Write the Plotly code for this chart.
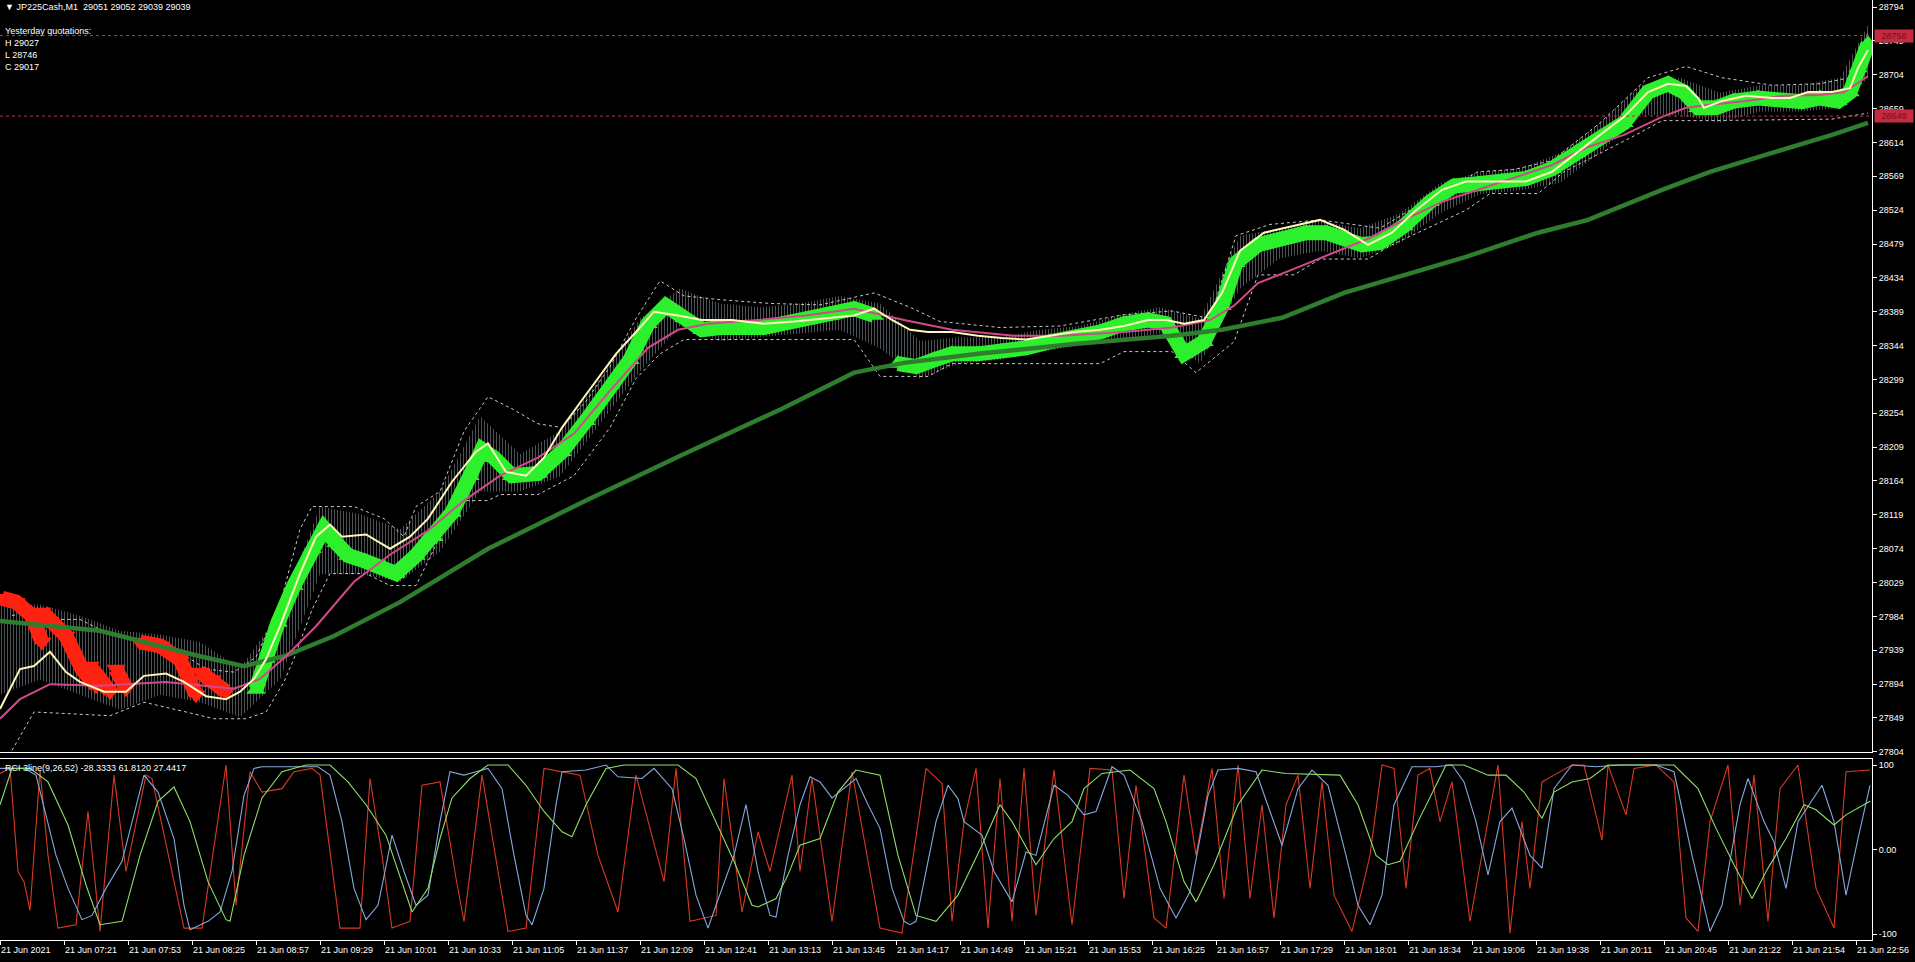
import plotly.graph_objects as go

# ---------------- data (bar index, value) ----------------
time_labels = ["21 Jun 2021", "21 Jun 07:21", "21 Jun 07:53", "21 Jun 08:25", "21 Jun 08:57",
               "21 Jun 09:29", "21 Jun 10:01", "21 Jun 10:33", "21 Jun 11:05", "21 Jun 11:37",
               "21 Jun 12:09", "21 Jun 12:41", "21 Jun 13:13", "21 Jun 13:45", "21 Jun 14:17",
               "21 Jun 14:49", "21 Jun 15:21", "21 Jun 15:53", "21 Jun 16:25", "21 Jun 16:57",
               "21 Jun 17:29", "21 Jun 18:01", "21 Jun 18:34", "21 Jun 19:06", "21 Jun 19:38",
               "21 Jun 20:11", "21 Jun 20:45", "21 Jun 21:22", "21 Jun 21:54", "21 Jun 22:56"]
label_bars = [0, 32, 64, 96, 128, 160, 192, 224, 256, 288, 320, 352, 384, 416, 448,
              480, 512, 544, 576, 608, 640, 672, 704, 736, 768, 800, 832, 864, 896, 928]

price_ticks = [27804, 27849, 27894, 27939, 27984, 28029, 28074, 28119, 28164, 28209, 28254,
               28299, 28344, 28389, 28434, 28479, 28524, 28569, 28614, 28659, 28704, 28749, 28794]
level_lines = [28756, 28649]

red_arrows = [
    [(1, 28008), (8, 28003), (16, 27985), (21, 27950)],
    [(21, 27990), (33, 27958), (41, 27914), (48, 27892)],
    [(45, 27918), (55, 27884)],
    [(58, 27914), (63, 27888)],
    [(70, 27950), (80, 27945), (90, 27927), (95, 27897), (98, 27880)],
    [(100, 27910), (106, 27900), (113, 27884)],
]
green_arrows = [
    [(128, 27887), (133, 27928), (139, 27976), (147, 28025), (156, 28074), (162, 28101), (168, 28082),
     (174, 28065), (183, 28057), (192, 28049), (198, 28041), (208, 28065), (217, 28090), (226, 28122),
     (235, 28171), (241, 28206), (247, 28195), (256, 28171), (269, 28174), (281, 28203), (293, 28244),
     (305, 28292), (315, 28325), (324, 28373), (333, 28397), (342, 28381), (351, 28365), (360, 28368),
     (373, 28368), (382, 28368), (391, 28373), (403, 28378), (415, 28384), (427, 28393), (437, 28384)],
    [(449, 28320), (458, 28316), (467, 28325), (476, 28333), (489, 28333), (501, 28336), (513, 28341),
     (525, 28349), (537, 28354), (550, 28362), (562, 28373), (574, 28378), (583, 28373), (592, 28333),
     (602, 28349), (611, 28397), (618, 28454), (629, 28478), (641, 28486), (653, 28494), (663, 28494),
     (672, 28486), (681, 28478), (690, 28481), (702, 28503), (715, 28535), (727, 28556), (739, 28559),
     (751, 28562), (763, 28566), (776, 28579), (788, 28600), (800, 28621), (812, 28640), (824, 28681),
     (834, 28692), (842, 28681), (849, 28660), (858, 28660), (867, 28669), (879, 28673), (892, 28669),
     (901, 28668), (910, 28673), (919, 28669), (925, 28681), (929, 28713), (934, 28745)],
]

bar_range = [(0, 28000, 27880), (20, 28000, 27900), (40, 27985, 27880), (60, 27965, 27860),
             (80, 27960, 27880), (100, 27950, 27870), (120, 27915, 27850), (140, 27990, 27900),
             (160, 28130, 28040), (180, 28120, 28040), (200, 28100, 28030), (220, 28150, 28070),
             (240, 28250, 28150), (260, 28200, 28150), (280, 28230, 28170), (300, 28300, 28240),
             (320, 28380, 28310), (340, 28420, 28370), (360, 28400, 28350), (380, 28395, 28355),
             (400, 28400, 28360), (420, 28410, 28365), (440, 28400, 28340), (460, 28350, 28300),
             (480, 28355, 28320), (500, 28355, 28325), (520, 28365, 28335), (540, 28370, 28345),
             (560, 28385, 28350), (580, 28395, 28360), (600, 28380, 28320), (620, 28490, 28420),
             (640, 28500, 28460), (660, 28510, 28470), (680, 28500, 28460), (700, 28520, 28480),
             (720, 28560, 28520), (740, 28575, 28545), (760, 28580, 28550), (780, 28600, 28560),
             (800, 28640, 28600), (820, 28690, 28650), (840, 28700, 28650), (860, 28680, 28640),
             (880, 28690, 28655), (900, 28690, 28655), (920, 28700, 28660), (934, 28770, 28700)]

upper_band = [(6, 27985), (20, 27996), (30, 27980), (40, 27980), (55, 27960), (70, 27950), (93, 27931),
              (103, 27914), (117, 27910), (128, 27930), (140, 28000), (150, 28100), (156, 28130),
              (177, 28130), (192, 28114), (202, 28090), (208, 28130), (220, 28150), (232, 28230),
              (244, 28276), (256, 28260), (269, 28240), (281, 28235), (293, 28270), (305, 28316),
              (318, 28380), (330, 28430), (342, 28410), (360, 28405), (385, 28400), (410, 28398),
              (437, 28414), (455, 28395), (470, 28376), (500, 28368), (530, 28370), (562, 28385),
              (586, 28390), (605, 28380), (618, 28490), (635, 28505), (660, 28511), (690, 28500),
              (715, 28540), (739, 28575), (757, 28578), (776, 28590), (800, 28640), (824, 28700),
              (843, 28715), (861, 28700), (886, 28690), (910, 28692), (925, 28700), (934, 28760)]
lower_band = [(6, 27806), (17, 27857), (55, 27852), (72, 27870), (93, 27857), (107, 27848), (123, 27848),
              (133, 27857), (142, 27897), (147, 27928), (156, 27993), (165, 28041), (183, 28041),
              (195, 28025), (208, 28025), (220, 28090), (232, 28138), (244, 28138), (250, 28146),
              (269, 28146), (287, 28171), (305, 28235), (318, 28300), (330, 28333), (342, 28352),
              (427, 28352), (440, 28303), (464, 28303), (476, 28320), (550, 28320), (562, 28336),
              (586, 28336), (598, 28308), (617, 28349), (629, 28438), (647, 28438), (660, 28459),
              (684, 28459), (696, 28478), (733, 28524), (745, 28546), (769, 28546), (782, 28575),
              (818, 28624), (831, 28643), (855, 28643), (916, 28645), (934, 28653)]

ma_fast = [(0, 27861), (10, 27914), (17, 27918), (25, 27937), (33, 27910), (40, 27897), (52, 27884),
           (63, 27884), (72, 27905), (83, 27908), (92, 27897), (103, 27878), (113, 27874), (120, 27884),
           (127, 27901), (133, 27927), (140, 27971), (150, 28041), (158, 28090), (165, 28106), (171, 28090),
           (183, 28093), (195, 28074), (205, 28090), (214, 28114), (226, 28163), (238, 28203), (244, 28214),
           (253, 28176), (263, 28171), (272, 28195), (281, 28235), (290, 28268), (299, 28300), (308, 28333),
           (318, 28362), (327, 28389), (339, 28384), (351, 28378), (366, 28378), (382, 28373), (397, 28376),
           (415, 28381), (427, 28384), (437, 28393), (446, 28378), (455, 28365), (464, 28362), (476, 28362),
           (489, 28357), (501, 28354), (513, 28352), (525, 28357), (537, 28362), (550, 28365), (562, 28370),
           (574, 28378), (583, 28378), (592, 28373), (602, 28378), (611, 28414), (620, 28470), (632, 28494),
           (647, 28503), (660, 28511), (672, 28498), (684, 28478), (696, 28494), (708, 28524), (721, 28551),
           (733, 28562), (745, 28562), (763, 28562), (776, 28575), (788, 28600), (800, 28624), (812, 28648),
           (824, 28681), (834, 28692), (843, 28689), (849, 28673), (852, 28660), (861, 28669), (873, 28676),
           (886, 28673), (895, 28673), (904, 28681), (916, 28681), (925, 28686), (929, 28713), (934, 28737)]
ma_mid = [(0, 27848), (10, 27874), (25, 27894), (50, 27892), (83, 27897), (117, 27888), (130, 27901),
          (143, 27931), (158, 27971), (177, 28030), (195, 28066), (214, 28098), (232, 28138), (250, 28171),
          (269, 28195), (287, 28227), (305, 28284), (324, 28341), (339, 28365), (354, 28373), (379, 28378),
          (403, 28384), (427, 28393), (452, 28378), (476, 28365), (507, 28357), (531, 28357), (562, 28362),
          (586, 28368), (605, 28378), (617, 28397), (629, 28427), (647, 28446), (666, 28467), (684, 28486),
          (702, 28511), (721, 28535), (739, 28551), (757, 28567), (776, 28584), (794, 28608), (812, 28624),
          (831, 28648), (843, 28660), (855, 28664), (873, 28669), (892, 28676), (910, 28677), (922, 28681),
          (934, 28702)]
ma_slow = [(0, 27978), (50, 27965), (100, 27931), (122, 27918), (142, 27931), (167, 27958), (200, 28003),
           (244, 28074), (293, 28138), (342, 28200), (391, 28260), (427, 28308), (452, 28321), (489, 28333),
           (537, 28346), (586, 28357), (611, 28365), (641, 28381), (672, 28414), (708, 28443), (733, 28462),
           (769, 28494), (794, 28511), (831, 28551), (855, 28575), (886, 28600), (916, 28624), (934, 28640)]

rci9 = [(0, 90), (5, 96), (9, -26), (12, -38), (15, -72), (20, 94), (24, -7), (29, -93), (38, -89), (44, 45),
        (50, -97), (57, 88), (63, -26), (73, 88), (76, 84), (92, -93), (101, -93), (113, 100), (118, -66),
        (125, 92), (131, 68), (141, 72), (147, 92), (156, 96), (160, 88), (170, -93), (180, -93), (185, 84),
        (191, -7), (196, -93), (205, -85), (211, 76), (220, 80), (228, -34), (232, -85), (241, 88), (254, -97),
        (263, -93), (272, 96), (290, 88), (299, -7), (309, -74), (318, 88), (332, -38), (338, 96), (345, -85),
        (358, -78), (362, 84), (371, -74), (379, 21), (385, -26), (396, 88), (400, -26), (406, 84), (416, -85),
        (426, 92), (440, -93), (451, -99), (463, 96), (471, 78), (476, -85), (482, 33), (488, 96), (494, -93),
        (500, 84), (506, -85), (512, 96), (518, -78), (527, 94), (536, -89), (545, 96), (556, 94), (562, -58),
        (568, 76), (577, -81), (583, -93), (592, 88), (598, -7), (606, 96), (612, -58), (619, 100), (625, -58),
        (631, 53), (637, -81), (643, 53), (649, 88), (655, -46), (661, 80), (667, -54), (676, -97), (685, -7),
        (691, 100), (697, 96), (703, -46), (709, 88), (715, 96), (720, 33), (726, 80), (735, -85), (741, -7),
        (749, 100), (755, -99), (761, 33), (765, -46), (771, 80), (777, 88), (786, 100), (792, 100), (801, 11),
        (804, 100), (813, 41), (817, 96), (828, 100), (837, 80), (843, -81), (849, -97), (855, 33), (864, 100),
        (870, -66), (877, 88), (884, -85), (890, 72), (899, 100), (908, -46), (917, -93), (923, 92), (935, 94)]
rci26 = [(0, 96), (12, 96), (18, 88), (28, -7), (34, -46), (41, -83), (46, -78), (53, -46), (61, -14), (66, 33),
         (72, 88), (79, 68), (87, 13), (92, -66), (95, -95), (104, -85), (110, -74), (116, -26), (122, 64),
         (127, 96), (131, 98), (159, 98), (165, 88), (171, 33), (177, -46), (183, -83), (189, -66), (193, -20),
         (196, 17), (202, -26), (208, -66), (214, -54), (220, 33), (225, 92), (232, 88), (238, 92), (244, 96),
         (251, 72), (257, -7), (263, -78), (266, -89), (272, -46), (278, 53), (281, 92), (293, 94), (303, 100),
         (309, 86), (321, 84), (327, 96), (336, 72), (342, 13), (348, -54), (354, -93), (358, -66), (367, -7),
         (373, 53), (379, -26), (385, -78), (388, -80), (394, -7), (400, 53), (405, 86), (410, 80), (416, 61),
         (422, 72), (428, 84), (434, 53), (440, 25), (446, -46), (452, -85), (455, -89), (458, -85), (468, 33),
         (474, 76), (479, 60), (482, 33), (491, 17), (497, -26), (506, -62), (513, -3), (518, -7), (527, 76),
         (534, 64), (542, 41), (548, 45), (556, 98), (562, 88), (571, 33), (580, -46), (588, -81), (595, -50),
         (604, 64), (609, 94), (619, 96), (628, 92), (637, 33), (641, 5), (649, 72), (656, 94), (664, 76),
         (673, -7), (679, -66), (685, -89), (691, -54), (697, 53), (706, 98), (718, 98), (726, 100), (732, 80),
         (738, 33), (744, -30), (750, 33), (756, 49), (765, -7), (771, -22), (777, 72), (786, 100), (798, 98),
         (810, 100), (828, 100), (837, 92), (846, -7), (855, -97), (861, -66), (870, 53), (874, 84), (882, 33),
         (887, 9), (893, -46), (899, 33), (911, 76), (917, 33), (923, -54), (929, 13), (935, 76)]
rci52 = [(0, 53), (6, 96), (15, 96), (24, 80), (34, 29), (43, -42), (50, -89), (61, -85), (70, -7), (79, 57),
         (87, 74), (95, 33), (104, -38), (113, -83), (115, -85), (122, -7), (131, 61), (141, 92), (153, 100),
         (165, 100), (174, 80), (183, 53), (193, 17), (202, -46), (206, -74), (214, -46), (220, 13), (226, 61),
         (235, 84), (244, 100), (254, 100), (263, 76), (272, 45), (281, 21), (286, 15), (293, 53), (303, 96),
         (312, 100), (339, 100), (348, 84), (358, 33), (367, -14), (376, -66), (379, -68), (388, -58), (394, -30),
         (400, 5), (410, 13), (419, 68), (428, 94), (440, 88), (449, -7), (458, -78), (468, -85), (479, -54),
         (491, 5), (500, 53), (506, 33), (518, -18), (527, 13), (536, 33), (542, 72), (551, 90), (565, 94),
         (577, 72), (583, 33), (592, -38), (598, -62), (607, -18), (619, 53), (631, 94), (643, 90), (670, 88),
         (679, 53), (688, -7), (694, -18), (700, -14), (709, 33), (718, 76), (723, 100), (732, 100), (744, 88),
         (753, 88), (762, 68), (771, 37), (777, 68), (786, 80), (795, 84), (804, 100), (837, 100), (849, 72),
         (858, 25), (867, -18), (876, -58), (884, -22), (893, 13), (902, 53), (908, 47), (917, 29), (923, 41),
         (935, 57)]

header_text = "\u25bc JP225Cash,M1\u00a0\u00a029051 29052 29039 29039"
yesterday_lines = ["Yesterday quotations:", "H 29027", "L 28746", "C 29017"]
rci_label = "RCI 3line(9,26,52) -28.3333 61.8120 27.4417"

# ---------------- figure ----------------
FONT = "Liberation Sans"
fig = go.Figure()


def col(pairs, i):
    return [p[i] for p in pairs]


def segs(segments):
    xs, ys = [], []
    for s in segments:
        xs += col(s, 0) + [None]
        ys += col(s, 1) + [None]
    return xs, ys


# grey bars (hatched range)
fig.add_trace(go.Scatter(x=col(bar_range, 0), y=col(bar_range, 1), mode="lines",
                         line=dict(width=0, color="rgba(0,0,0,0)"), hoverinfo="skip"))
fig.add_trace(go.Scatter(x=col(bar_range, 0), y=col(bar_range, 2), mode="lines",
                         line=dict(width=0, color="rgba(0,0,0,0)"), fill="tonexty",
                         fillcolor="rgba(0,0,0,0)",
                         fillpattern=dict(shape="|", fgcolor="#9aa3ad", bgcolor="rgba(0,0,0,0)",
                                          size=3, solidity=0.35),
                         hoverinfo="skip"))
# envelopes
for band in (upper_band, lower_band):
    fig.add_trace(go.Scatter(x=col(band, 0), y=col(band, 1), mode="lines",
                             line=dict(color="#c8c8c8", width=1, dash="dot")))
# arrow clusters
rx, ry = segs(red_arrows)
fig.add_trace(go.Scatter(x=rx, y=ry, mode="lines+markers", line=dict(color="#ff2210", width=15),
                         marker=dict(symbol="triangle-down", size=17, color="#ff2210"),
                         connectgaps=False))
gx, gy = segs(green_arrows)
fig.add_trace(go.Scatter(x=gx, y=gy, mode="lines+markers", line=dict(color="#2cf02c", width=15),
                         marker=dict(symbol="triangle-up", size=17, color="#2cf02c"),
                         connectgaps=False))
# moving averages
fig.add_trace(go.Scatter(x=col(ma_slow, 0), y=col(ma_slow, 1), mode="lines",
                         line=dict(color="#2f7d2f", width=4.5)))
fig.add_trace(go.Scatter(x=col(ma_mid, 0), y=col(ma_mid, 1), mode="lines",
                         line=dict(color="#d04a8a", width=2)))
fig.add_trace(go.Scatter(x=col(ma_fast, 0), y=col(ma_fast, 1), mode="lines",
                         line=dict(color="#fdf8b8", width=2)))

# RCI
for data, c in ((rci9, "#d83a22"), (rci26, "#86a9de"), (rci52, "#8ee06a")):
    fig.add_trace(go.Scatter(x=col(data, 0), y=col(data, 1), mode="lines",
                             line=dict(color=c, width=1.1), xaxis="x2", yaxis="y2"))

for lv in level_lines:
    fig.add_shape(type="line", xref="x", yref="y", x0=0, x1=936, y0=lv, y1=lv,
                  line=dict(color="#b83848", width=1, dash="dot"))

ann = []
ann.append(dict(text=header_text, xref="paper", yref="paper", x=0, y=1, xanchor="left",
                yanchor="middle", xshift=3, yshift=-7, showarrow=False,
                font=dict(family=FONT, size=9, color="white")))
for i, t in enumerate(yesterday_lines):
    ann.append(dict(text=t, xref="paper", yref="paper", x=0, y=1, xanchor="left",
                    yanchor="middle", xshift=3, yshift=-(31 + 12 * i), showarrow=False,
                    font=dict(family=FONT, size=9, color="white")))
ann.append(dict(text=rci_label, xref="paper", yref="paper", x=0, y=0.19255, xanchor="left",
                yanchor="middle", xshift=3, yshift=-9, showarrow=False,
                font=dict(family=FONT, size=9, color="white")))
for b, t in zip(label_bars, time_labels):
    ann.append(dict(text=t, xref="x2", yref="paper", x=b, y=0, xanchor="left", yanchor="top",
                    yshift=-3, xshift=-1, showarrow=False,
                    font=dict(family=FONT, size=9, color="white")))
for lv in level_lines:
    ann.append(dict(text=str(lv), xref="paper", yref="y", x=1, y=lv, xanchor="left",
                    yanchor="middle", xshift=2, showarrow=False, bgcolor="#c52c42",
                    borderpad=1, width=36, font=dict(family=FONT, size=9, color="#7a0a1c")))

axis_common = dict(showgrid=False, zeroline=False, color="white")
fig.update_layout(
    width=1915, height=962,
    margin=dict(l=0, r=43, t=0, b=22),
    paper_bgcolor="black", plot_bgcolor="black",
    showlegend=False,
    font=dict(family=FONT, size=9, color="white"),
    xaxis=dict(domain=[0, 1], anchor="y", range=[0, 936], showticklabels=False,
               showline=True, linecolor="white", linewidth=1, ticks="", **axis_common),
    xaxis2=dict(domain=[0, 1], anchor="y2", matches="x", range=[0, 936], showticklabels=False,
                showline=True, mirror=True, linecolor="white", linewidth=1,
                ticks="outside", tickvals=label_bars, ticklen=4, tickcolor="white", **axis_common),
    yaxis=dict(domain=[0.2, 1], range=[27803.8, 28803.3], side="right", tickvals=price_ticks,
               ticktext=[str(v) for v in price_ticks],
               ticks="outside", ticklen=4, tickcolor="white", showline=True, linecolor="white",
               tickfont=dict(family=FONT, size=9, color="white"), **axis_common),
    yaxis2=dict(domain=[0, 0.19255], range=[-107.1, 107.1], side="right", tickvals=[100, 0, -100],
                ticktext=["100", "0.00", "-100"], ticks="outside", ticklen=4, tickcolor="white",
                showline=True, linecolor="white",
                tickfont=dict(family=FONT, size=9, color="white"), **axis_common),
    annotations=ann,
)

fig.write_html("out.html", config={"displayModeBar": False},
               post_script="document.body.style.margin='0';document.body.style.background='black';")
